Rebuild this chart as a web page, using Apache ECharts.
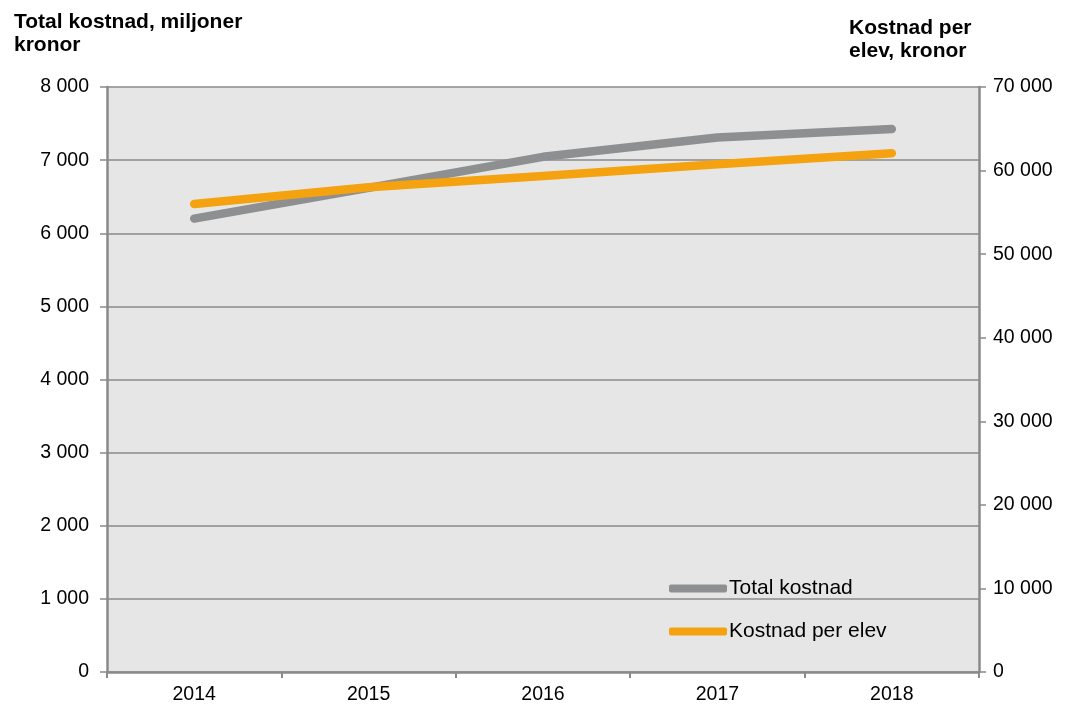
<!DOCTYPE html>
<html>
<head>
<meta charset="utf-8">
<script src="https://cdn.jsdelivr.net/npm/echarts@6/dist/echarts.min.js"></script>
<style>
  html, body { margin: 0; padding: 0; background: #fff; }
  #chart { width: 1066px; height: 705px; }
</style>
</head>
<body>
<div id="chart"></div>
<script>
  var years = ['2014', '2015', '2016', '2017', '2018'];
  var totalKostnad = [6200, 6620, 7045, 7310, 7425];
  var kostnadPerElev = [56000, 58000, 59350, 60750, 62070];

  var grey = '#8e8f90';
  var orange = '#f4a20f';
  var axisGrey = '#8a8a8a';
  var font = 'Liberation Sans, Arial, sans-serif';

  function spaced(v) {
    return String(v).replace(/\B(?=(\d{3})+(?!\d))/g, ' ');
  }

  var chart = echarts.init(document.getElementById('chart'));
  var option = {
    animation: false,
    textStyle: { fontFamily: font },
    title: [{
      text: 'Total kostnad, miljoner\nkronor',
      left: 9, top: 6,
      textStyle: { fontSize: 21, fontWeight: 'bold', color: '#000', lineHeight: 23, fontFamily: font }
    }, {
      text: 'Kostnad per\nelev, kronor',
      left: 844, top: 12,
      textStyle: { fontSize: 21, fontWeight: 'bold', color: '#000', lineHeight: 23, fontFamily: font }
    }],
    legend: {
      orient: 'vertical',
      left: 664, top: 573,
      itemWidth: 58, itemHeight: 8,
      itemGap: 22,
      icon: 'roundRect',
      textStyle: { fontSize: 21, color: '#000', padding: [0, 0, 0, -3], fontFamily: font },
      data: ['Total kostnad', 'Kostnad per elev']
    },
    grid: {
      left: 107, right: 87, top: 87, bottom: 33,
      show: true, backgroundColor: '#e6e6e6', borderWidth: 0
    },
    xAxis: {
      type: 'category',
      data: years,
      boundaryGap: true,
      axisLine: { lineStyle: { color: axisGrey, width: 2.5 } },
      axisTick: { show: true, length: 6, lineStyle: { color: axisGrey, width: 2 } },
      axisLabel: { color: '#000', fontSize: 19.5, margin: 13 }
    },
    yAxis: [{
      type: 'value',
      min: 0, max: 8000, interval: 1000,
      axisLine: { show: true, lineStyle: { color: axisGrey, width: 2.5 } },
      axisTick: { show: true, length: 7, lineStyle: { color: axisGrey, width: 1.5 } },
      axisLabel: { color: '#000', fontSize: 19.5, margin: 18, formatter: spaced },
      splitLine: { show: true, lineStyle: { color: axisGrey, width: 1.5 } }
    }, {
      type: 'value',
      min: 0, max: 70000, interval: 10000,
      axisLine: { show: true, lineStyle: { color: axisGrey, width: 2.5 } },
      axisTick: { show: true, length: 7, lineStyle: { color: axisGrey, width: 1.5 } },
      axisLabel: { color: '#000', fontSize: 19.5, margin: 14, formatter: spaced },
      splitLine: { show: false }
    }],
    series: [{
      name: 'Total kostnad',
      type: 'line',
      yAxisIndex: 0,
      data: totalKostnad,
      showSymbol: false,
      symbol: 'none',
      color: grey,
      lineStyle: { color: grey, width: 8.5, cap: 'round', join: 'round' },
      z: 2
    }, {
      name: 'Kostnad per elev',
      type: 'line',
      yAxisIndex: 1,
      data: kostnadPerElev,
      showSymbol: false,
      symbol: 'none',
      color: orange,
      lineStyle: { color: orange, width: 8.5, cap: 'round', join: 'round' },
      z: 3
    }]
  };
  chart.setOption(option);
</script>
</body>
</html>
